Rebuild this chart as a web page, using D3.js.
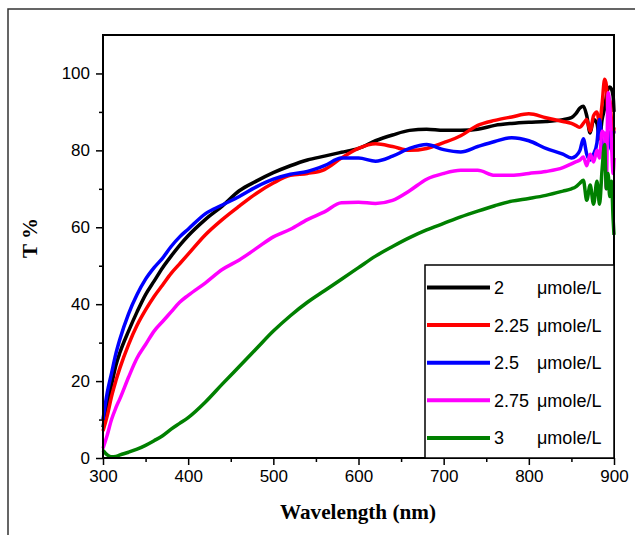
<!DOCTYPE html>
<html>
<head>
<meta charset="utf-8">
<script src="https://cdn.jsdelivr.net/npm/d3@7"></script>
<style>
body { margin: 0; background: #fff; }
</style>
</head>
<body>
<div id="chart"></div>
<script>
// wavelength (nm) sampled from the plot; finer near the noisy end
var wavelengths = [300,305,310,315,320,330,340,350,360,370,380,390,400,420,440,460,480,500,520,540,560,580,600,620,640,660,680,700,720,740,760,780,800,820,840,850,855,860,864,868,872,876,880,883,886,889,891,893,895,897,899,900];

var t2_00 = [8,14,19,24,27.5,33,38,42.5,46,49.5,52.5,55.3,57.8,62,65.5,69.5,72,74.2,76,77.5,78.5,79.5,80.5,82.5,84,85.2,85.5,85.2,85.2,85.5,86.5,87,87.3,87.5,88,88.5,89.5,91,91.5,89,84.5,88,87,83,88,91,94,96,96.5,96,94,90];
var t2_25 = [7,11,16,20,23.5,29.5,34.5,38.5,42,45,48,50.5,53,58,62,65.5,68.8,71.5,73.5,74,75,78,80.5,81.7,81,80,80.5,82,83.8,86.5,87.8,88.7,89.5,88.5,87.5,87,86.5,86,87,88,85,89,90,87,92,98.5,97,90,93,88,84,86];
var t2_50 = [10,17,22,27,31,37.5,42.5,46.5,49.5,52,55,57.5,59.5,63.5,65.8,68,70.5,72.5,73.8,74.5,76,78,78,77.2,78.5,80.5,81.5,80.2,79.6,81,82.3,83.3,82.5,80.5,79,78,78.5,80,83,79,77.5,79,82,88,82,80,84,85,82,80,84,85];
var t2_75 = [2.5,6,10,13,15.5,21,26,29.5,33,35.5,38,40.5,42.3,45.5,49,51.5,54.5,57.5,59.5,62,64,66.4,66.5,66.2,67,69.5,72.5,74,74.8,74.8,73.5,73.5,74,74.5,75.5,76.5,77,77.5,78.3,76,79,77,80,78,85,84,70,95,92,82,74,78];
var t3_00 = [2,0.8,0.3,0.4,0.8,1.5,2.3,3.3,4.5,5.8,7.5,9,10.5,14.5,19.2,23.8,28.4,33,37,40.5,43.5,46.5,49.5,52.5,55,57.3,59.3,61,62.7,64.2,65.6,66.8,67.5,68.3,69.4,70,70.5,71.5,72.2,67,71,66,72,66,75,81.5,70,74,68,72,62,58];

var concentrations = ["2", "2.25", "2.5", "2.75", "3"];
var colors = ["#000000", "#ff0000", "#0000ff", "#ff00ff", "#008000"];
var allSeries = [t2_00, t2_25, t2_50, t2_75, t3_00];

var xTicks = [300, 400, 500, 600, 700, 800, 900];
var xMinor = [350, 450, 550, 650, 750, 850];
var yTicks = [0, 20, 40, 60, 80, 100];
var yMinor = [10, 30, 50, 70, 90];

function drawChart() {
    var width = 635;
    var height = 535;
    var left = 103, top = 35, right = 614, bottom = 458;

    var svg = d3.select("#chart").append("svg")
        .attr("width", width).attr("height", height);

    // outer frame of the figure
    svg.append("rect")
        .attr("x", 8).attr("y", 9).attr("width", 700).attr("height", 600)
        .attr("fill", "none").attr("stroke", "#333").attr("stroke-width", 1.5);

    var x = d3.scaleLinear().domain([300, 900]).range([left, right]);
    var y = d3.scaleLinear().domain([0, 110]).range([bottom, top]);

    var line = d3.line()
        .x(function(d) { return x(d[0]); })
        .y(function(d) { return y(d[1]); })
        .curve(d3.curveMonotoneX);

    allSeries.forEach(function(vals, i) {
        var pts = wavelengths.map(function(w, j) { return [w, vals[j]]; });
        svg.append("path")
            .datum(pts)
            .attr("d", line)
            .attr("fill", "none")
            .attr("stroke", colors[i])
            .attr("stroke-width", 3.5)
            .attr("stroke-linejoin", "round");
    });

    // frame of the plot area
    svg.append("rect")
        .attr("x", left).attr("y", top)
        .attr("width", right - left).attr("height", bottom - top)
        .attr("fill", "none").attr("stroke", "#000").attr("stroke-width", 2);

    svg.append("g")
        .attr("transform", "translate(0," + bottom + ")")
        .call(d3.axisBottom(x).tickValues(xTicks).tickSize(7).tickPadding(5));
    svg.append("g")
        .attr("transform", "translate(0," + bottom + ")")
        .call(d3.axisBottom(x).tickValues(xMinor).tickSize(4).tickFormat(""));

    svg.append("g")
        .attr("transform", "translate(" + left + ",0)")
        .call(d3.axisLeft(y).tickValues(yTicks).tickSize(7).tickPadding(6));
    svg.append("g")
        .attr("transform", "translate(" + left + ",0)")
        .call(d3.axisLeft(y).tickValues(yMinor).tickSize(4).tickFormat(""));

    svg.selectAll(".domain").remove();
    svg.selectAll(".tick line").attr("stroke", "#000").attr("stroke-width", 1.5);
    svg.selectAll(".tick text")
        .attr("font-family", "'Liberation Sans', Arial, sans-serif")
        .attr("font-size", 17).attr("fill", "#000");

    // legend
    var lg = svg.append("g");
    lg.append("rect")
        .attr("x", 425).attr("y", 265).attr("width", right - 425).attr("height", bottom - 265)
        .attr("fill", "#fff").attr("stroke", "#000").attr("stroke-width", 1.5);
    concentrations.forEach(function(c, i) {
        var ly = 287.5 + i * 37.6;
        lg.append("line")
            .attr("x1", 427).attr("x2", 490).attr("y1", ly).attr("y2", ly)
            .attr("stroke", colors[i]).attr("stroke-width", 4);
        lg.append("text")
            .attr("x", 494).attr("y", ly + 6.5)
            .attr("font-family", "'Liberation Sans', Arial, sans-serif")
            .attr("font-size", 18)
            .text(c);
        lg.append("text")
            .attr("x", 537).attr("y", ly + 6.5)
            .attr("font-family", "'Liberation Sans', Arial, sans-serif")
            .attr("font-size", 18)
            .text("\u03bcmole/L");
    });

    svg.append("text")
        .attr("x", 358).attr("y", 519)
        .attr("text-anchor", "middle")
        .attr("font-family", "'Liberation Serif', 'Times New Roman', serif")
        .attr("font-weight", "bold").attr("font-size", 22)
        .attr("textLength", 156).attr("lengthAdjust", "spacingAndGlyphs")
        .text("Wavelength (nm)");

    svg.append("text")
        .attr("transform", "translate(37,238) rotate(-90)")
        .attr("text-anchor", "middle")
        .attr("font-family", "'Liberation Serif', 'Times New Roman', serif")
        .attr("font-weight", "bold").attr("font-size", 21)
        .text("T %");
}

drawChart();
</script>
</body>
</html>
